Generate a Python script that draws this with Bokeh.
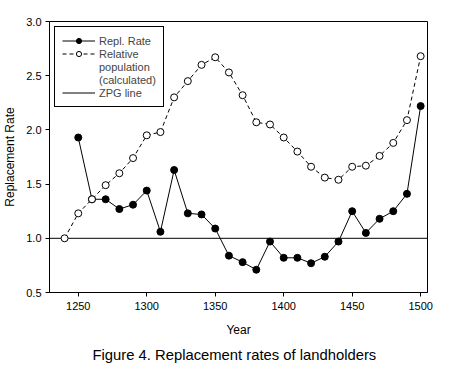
from bokeh.plotting import figure
from bokeh.models import (Range1d, FixedTicker, NumeralTickFormatter, Legend,
                          LegendItem, Title, ColumnDataSource)
from bokeh.embed import file_html
from bokeh.resources import INLINE

# ---- data ----
years_repl = [1250, 1260, 1270, 1280, 1290, 1300, 1310, 1320, 1330, 1340, 1350,
              1360, 1370, 1380, 1390, 1400, 1410, 1420, 1430, 1440, 1450, 1460,
              1470, 1480, 1490, 1500]
repl_rate = [1.93, 1.36, 1.36, 1.27, 1.31, 1.44, 1.06, 1.63, 1.23, 1.22, 1.09,
             0.84, 0.78, 0.71, 0.97, 0.82, 0.82, 0.77, 0.83, 0.97, 1.25, 1.05,
             1.18, 1.25, 1.41, 2.22]
years_pop = [1240, 1250, 1260, 1270, 1280, 1290, 1300, 1310, 1320, 1330, 1340,
             1350, 1360, 1370, 1380, 1390, 1400, 1410, 1420, 1430, 1440, 1450,
             1460, 1470, 1480, 1490, 1500]
rel_pop = [1.00, 1.23, 1.36, 1.49, 1.60, 1.74, 1.95, 1.98, 2.30, 2.45, 2.60,
           2.67, 2.53, 2.32, 2.07, 2.05, 1.93, 1.80, 1.66, 1.56, 1.54, 1.66,
           1.67, 1.76, 1.88, 2.09, 2.68]
zpg_level = 1.0
x_limits = [1229, 1505]
y_limits = [0.5, 3.0]
x_ticks = [1250, 1300, 1350, 1400, 1450, 1500]
y_ticks = [0.5, 1.0, 1.5, 2.0, 2.5, 3.0]
legend_labels = ["Repl. Rate", "Relative", "population", "(calculated)", "ZPG line"]

FONT = "Liberation Sans"

p = figure(width=449, height=367, output_backend="svg", toolbar_location=None,
           x_range=Range1d(*x_limits), y_range=Range1d(*y_limits),
           min_border_left=42, min_border_top=21, min_border_right=22,
           min_border_bottom=10)
p.background_fill_color = "white"
p.border_fill_color = "white"
p.outline_line_color = "black"
p.outline_line_width = 1
p.xgrid.visible = False
p.ygrid.visible = False

for ax in (p.xaxis[0], p.yaxis[0]):
    ax.axis_line_color = "black"
    ax.major_tick_line_color = "black"
    ax.major_tick_out = 4
    ax.major_tick_in = 0
    ax.minor_tick_line_color = None
    ax.major_label_text_font = FONT
    ax.major_label_text_font_size = "11px"
    ax.major_label_text_color = "black"
    ax.axis_label_text_font = FONT
    ax.axis_label_text_font_size = "12px"
    ax.axis_label_text_font_style = "normal"
    ax.axis_label_text_color = "black"

p.xaxis.ticker = FixedTicker(ticks=x_ticks)
p.yaxis.ticker = FixedTicker(ticks=y_ticks)
p.yaxis.formatter = NumeralTickFormatter(format="0.0")
p.xaxis.axis_label = "Year"
p.yaxis.axis_label = "Replacement Rate"
p.xaxis.major_label_standoff = 5
p.xaxis.axis_label_standoff = 10
p.yaxis.major_label_standoff = 4
p.yaxis.axis_label_standoff = 6

# ZPG line across the full x range
zpg_line = p.line(x=x_limits, y=[zpg_level] * len(x_limits),
                  line_color="black", line_width=1)

src_r = ColumnDataSource(dict(x=years_repl, y=repl_rate))
src_p = ColumnDataSource(dict(x=years_pop, y=rel_pop))

r_line = p.line("x", "y", source=src_r, line_color="black", line_width=1)
r_pts = p.scatter("x", "y", source=src_r, marker="circle", size=7,
                  fill_color="black", line_color="black")
p_line = p.line("x", "y", source=src_p, line_color="black", line_width=1,
                line_dash="4 3")
p_pts = p.scatter("x", "y", source=src_p, marker="circle", size=7,
                  fill_color="white", line_color="black", line_width=1)

# invisible placeholders for the continuation lines of the 2nd legend label
blank1 = p.line(x=[], y=[], line_alpha=0)
blank2 = p.line(x=[], y=[], line_alpha=0)

legend = Legend(items=[
    LegendItem(label=legend_labels[0], renderers=[r_line, r_pts]),
    LegendItem(label=legend_labels[1], renderers=[p_line, p_pts]),
    LegendItem(label=legend_labels[2], renderers=[blank1]),
    LegendItem(label=legend_labels[3], renderers=[blank2]),
    LegendItem(label=legend_labels[4], renderers=[zpg_line]),
], location="top_left")
legend.margin = 5
legend.padding = 7
legend.spacing = 0
legend.glyph_width = 33
legend.glyph_height = 13
legend.label_height = 13
legend.label_standoff = 4
legend.label_text_font = FONT
legend.label_text_font_size = "11px"
legend.border_line_color = "black"
legend.border_line_alpha = 1.0
legend.border_line_width = 1
legend.background_fill_alpha = 1.0
p.add_layout(legend)

cap = Title(text="Figure 4. Replacement rates of landholders", align="left",
            offset=43, text_font=FONT, text_font_size="14.8px",
            text_font_style="normal", text_color="black")
p.add_layout(cap, "below")

open("out.html", "w").write(file_html(p, INLINE))
